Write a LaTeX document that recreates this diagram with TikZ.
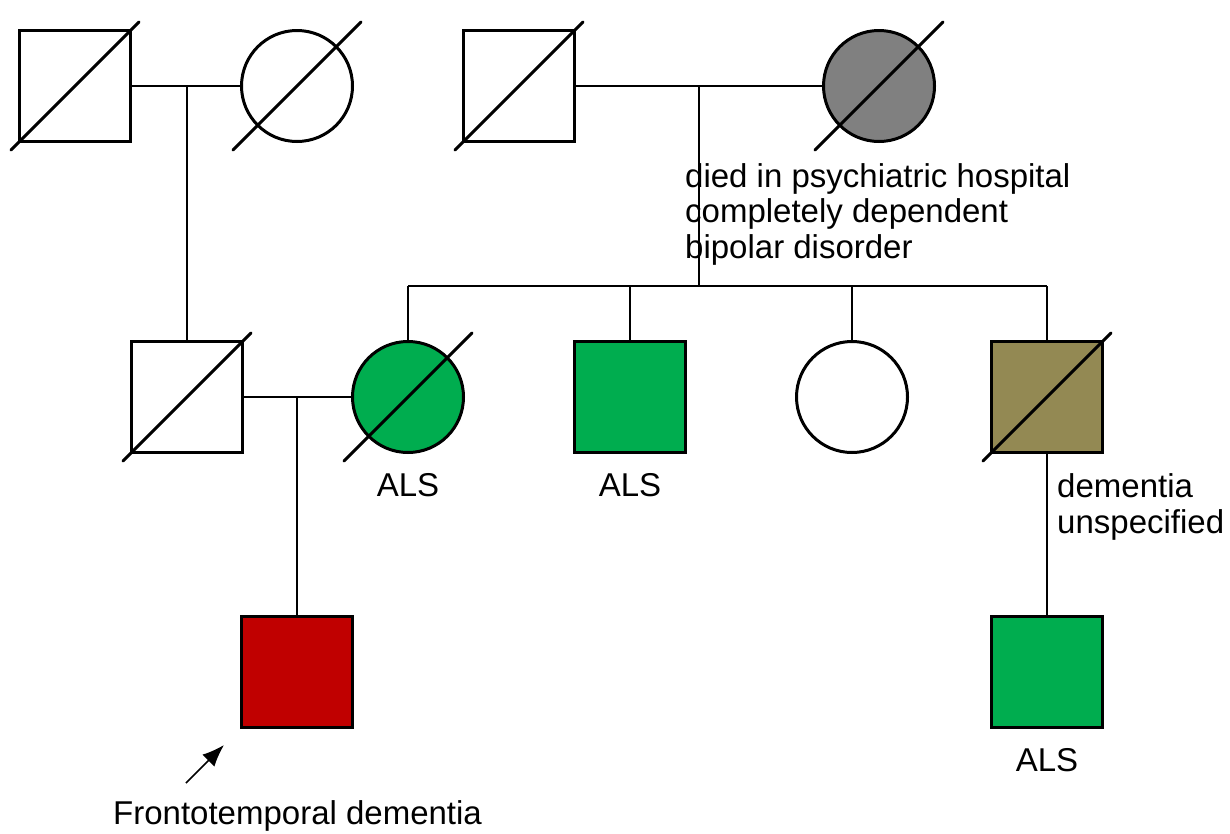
\documentclass[tikz,border=0pt]{standalone}
\usepackage{fontspec}
\setmainfont{Liberation Sans}
\usetikzlibrary{positioning,arrows.meta}

\definecolor{alsgreen}{HTML}{00AD4F}
\definecolor{ftdred}{HTML}{C00000}
\definecolor{demolive}{HTML}{938953}
\definecolor{psygrey}{HTML}{808080}

\newcommand{\deceased}[1]{%
  \draw [slash] ([shift={(-64,64)}]#1.center) -- ([shift={(64,-64)}]#1.center);}

\begin{document}
\begin{tikzpicture}[x=1pt, y=-1pt,
    male/.style={draw, line width=3pt, rectangle, minimum size=111pt, inner sep=0pt},
    female/.style={draw, line width=3pt, circle, minimum size=111pt, inner sep=0pt},
    slash/.style={line width=3pt, line cap=round},
    link/.style={line width=1.5pt},
    lbl/.style={inner sep=0pt, font=\fontsize{33}{35.5}\selectfont},
    node distance=19pt]

  \useasboundingbox (0,0) rectangle (1230,833);

  % generation I
  \node [male]   (gpam) at (75,86)  {};
  \node [female] (gpaf) at (297,86) {};
  \node [male]   (gpbm) at (519,86) {};
  \node [female, fill=psygrey] (gpbf) at (879,86) {};

  % generation II
  \node [male]   (pat)  at (187,397) {};
  \node [female, fill=alsgreen] (mot) at (408,397) {};
  \node [male,   fill=alsgreen] (unc) at (630,397) {};
  \node [female] (aun)  at (852,397) {};
  \node [male,   fill=demolive] (uncb) at (1047,397) {};

  % generation III
  \node [male, fill=ftdred]   (prob) at (297,672) {};
  \node [male, fill=alsgreen] (cous) at (1047,672) {};

  \deceased{gpam}
  \deceased{gpaf}
  \deceased{gpbm}
  \deceased{gpbf}
  \deceased{pat}
  \deceased{mot}
  \deceased{uncb}

  % couples and lines of descent
  \coordinate (ja) at (187,86);
  \coordinate (jb) at (699,86);
  \coordinate (sib) at (699,286);
  \coordinate (jc) at (297,397);

  \draw [link] (gpam) -- (gpaf);
  \draw [link] (ja) -- (pat);
  \draw [link] (gpbm) -- (gpbf);
  \draw [link] (jb) -- (sib);
  \draw [link] (mot |- sib) -- (uncb |- sib);
  \foreach \s in {mot, unc, aun, uncb}
    \draw [link] (\s |- sib) -- (\s);
  \draw [link] (pat) -- (mot);
  \draw [link] (jc) -- (prob);
  \draw [link] (uncb) -- (cous);

  % labels
  \node [lbl, anchor=west, align=left] (psy) at (685,214)
        {died in psychiatric hospital\\completely dependent\\bipolar disorder};
  \node [lbl, below=of mot] (alsa) {ALS};
  \node [lbl, below=of unc] (alsb) {ALS};
  \node [lbl, anchor=west, align=left] (dem) at (1057,507)
        {dementia\\unspecified};
  \node [lbl, below=of cous] (alsc) {ALS};
  \node [lbl, anchor=west] (ftd) at (113,816) {Frontotemporal dementia};

  \coordinate (arrs) at (186,783);
  \coordinate (arre) at (224,745);
  \draw [link, -{Latex[length=22pt, width=17pt]}] (arrs) -- (arre);

\end{tikzpicture}
\end{document}
